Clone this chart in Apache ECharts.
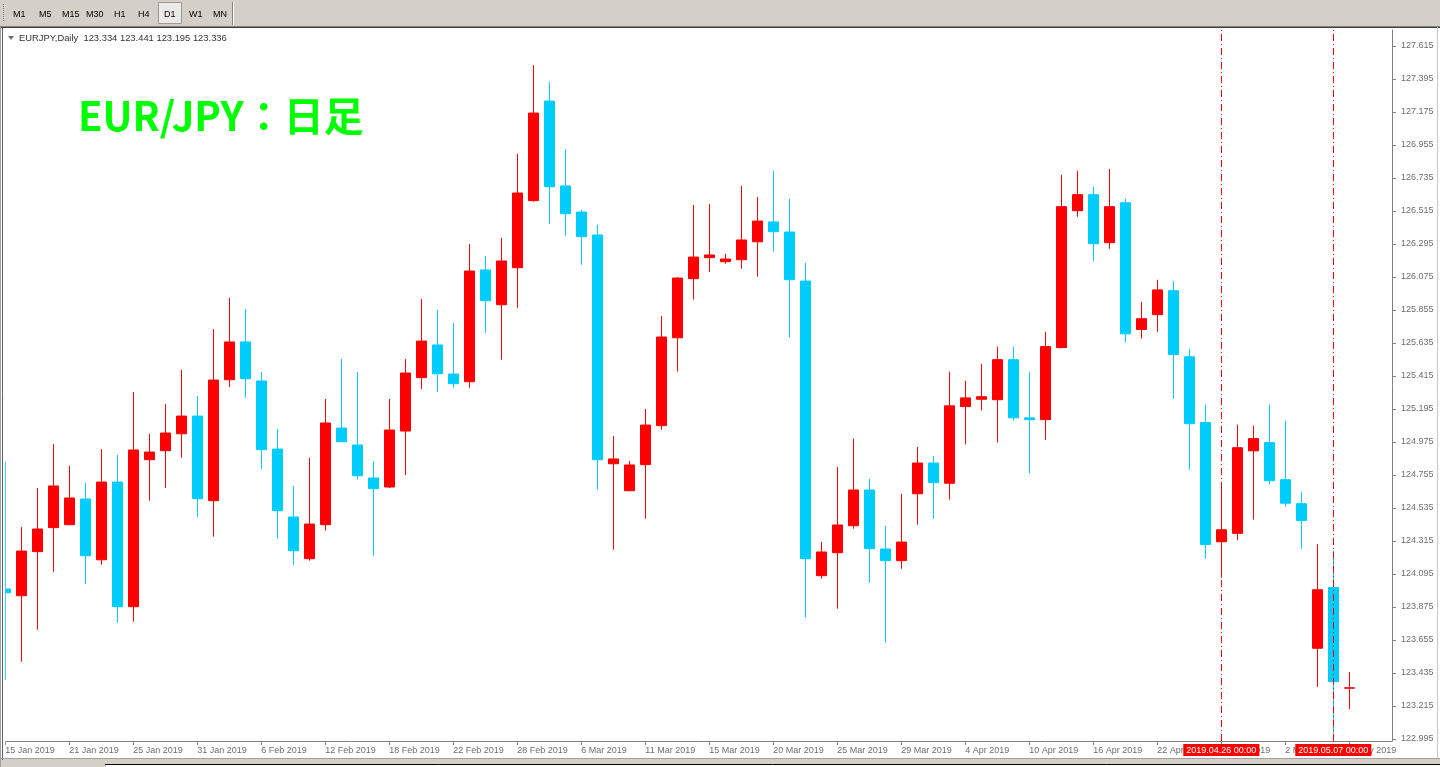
<!DOCTYPE html>
<html><head><meta charset="utf-8">
<script src="https://cdn.jsdelivr.net/npm/echarts@6/dist/echarts.min.js"></script>
<style>html,body{margin:0;padding:0;background:#fff;overflow:hidden}#c{width:1440px;height:767px}</style>
</head><body><div id="c"></div>
<script>
// ---------- DATA ----------
const dates = ['15 Jan 2019','16 Jan 2019','17 Jan 2019','18 Jan 2019','21 Jan 2019','22 Jan 2019','23 Jan 2019','24 Jan 2019','25 Jan 2019','28 Jan 2019','29 Jan 2019','30 Jan 2019','31 Jan 2019','1 Feb 2019','4 Feb 2019','5 Feb 2019','6 Feb 2019','7 Feb 2019','8 Feb 2019','11 Feb 2019','12 Feb 2019','13 Feb 2019','14 Feb 2019','15 Feb 2019','18 Feb 2019','19 Feb 2019','20 Feb 2019','21 Feb 2019','22 Feb 2019','25 Feb 2019','26 Feb 2019','27 Feb 2019','28 Feb 2019','1 Mar 2019','4 Mar 2019','5 Mar 2019','6 Mar 2019','7 Mar 2019','8 Mar 2019','10 Mar 2019','11 Mar 2019','12 Mar 2019','13 Mar 2019','14 Mar 2019','15 Mar 2019','17 Mar 2019','18 Mar 2019','19 Mar 2019','20 Mar 2019','21 Mar 2019','22 Mar 2019','24 Mar 2019','25 Mar 2019','26 Mar 2019','27 Mar 2019','28 Mar 2019','29 Mar 2019','1 Apr 2019','2 Apr 2019','3 Apr 2019','4 Apr 2019','5 Apr 2019','8 Apr 2019','9 Apr 2019','10 Apr 2019','11 Apr 2019','12 Apr 2019','15 Apr 2019','16 Apr 2019','17 Apr 2019','18 Apr 2019','19 Apr 2019','22 Apr 2019','23 Apr 2019','24 Apr 2019','25 Apr 2019','26 Apr 2019','29 Apr 2019','30 Apr 2019','1 May 2019','2 May 2019','3 May 2019','6 May 2019','7 May 2019','8 May 2019'];
const openP  = [123.995,123.950,124.244,124.404,124.424,124.595,124.190,124.708,123.877,124.857,124.917,125.030,125.148,124.584,125.390,125.642,125.382,124.928,124.475,124.197,124.424,125.068,124.955,124.735,124.675,125.048,125.404,125.622,125.428,125.377,126.122,125.890,126.137,126.584,127.248,126.682,126.508,126.355,124.830,124.650,124.824,125.084,125.670,126.064,126.204,126.177,126.190,126.310,126.442,126.375,126.048,124.084,124.237,124.417,124.655,124.262,124.184,124.630,124.835,124.700,125.211,125.260,125.257,125.524,125.136,125.124,125.604,126.517,126.624,126.304,126.570,125.725,125.824,125.984,125.543,125.105,124.310,124.366,124.916,124.971,124.724,124.564,123.600,124.005,123.334];
const highP  = [124.844,124.408,124.668,124.962,124.815,124.702,124.928,124.888,125.308,125.028,125.228,125.455,125.282,125.728,125.935,125.862,125.442,125.062,124.682,124.868,125.262,125.528,125.442,124.848,125.262,125.528,125.928,125.855,125.768,126.295,126.215,126.335,126.895,127.488,127.375,126.928,126.522,126.422,125.015,124.848,125.195,125.815,126.075,126.555,126.562,126.228,126.682,126.608,126.782,126.595,126.168,124.308,124.808,124.998,124.728,124.415,124.628,124.942,124.882,125.444,125.383,125.497,125.611,125.611,125.444,125.710,126.757,126.783,126.677,126.795,126.597,125.909,126.057,126.049,125.596,125.224,124.705,125.090,125.083,125.224,125.117,124.644,124.293,124.250,123.441];
const lowP   = [123.388,123.510,123.724,124.110,124.420,124.030,124.157,123.770,123.777,124.584,124.670,124.870,124.477,124.344,125.342,125.270,124.797,124.330,124.157,124.184,124.384,124.975,124.724,124.217,124.668,124.755,125.328,125.308,125.337,125.337,125.704,125.524,125.870,126.577,126.430,126.350,126.157,124.657,124.257,124.648,124.464,125.057,125.444,125.924,126.110,126.164,126.130,126.077,126.244,125.670,123.804,124.064,123.864,124.397,124.037,123.637,124.130,124.424,124.464,124.591,124.959,125.185,124.971,125.117,124.765,124.990,125.604,126.476,126.183,126.263,125.640,125.664,125.710,125.264,124.790,124.196,124.070,124.320,124.458,124.693,124.543,124.264,123.343,123.030,123.195];
const closeP = [123.970,124.248,124.395,124.682,124.602,124.217,124.708,123.877,124.922,124.908,125.035,125.148,124.597,125.388,125.642,125.397,124.924,124.517,124.250,124.428,125.102,124.977,124.750,124.664,125.055,125.435,125.648,125.430,125.364,126.115,125.917,126.182,126.635,127.168,126.677,126.497,126.344,124.857,124.862,124.822,125.088,125.675,126.068,126.208,126.222,126.195,126.322,126.448,126.377,126.057,124.197,124.242,124.422,124.655,124.264,124.184,124.308,124.835,124.704,125.216,125.269,125.277,125.524,125.136,125.124,125.611,126.544,126.624,126.297,126.544,125.696,125.797,125.989,125.558,125.097,124.291,124.390,124.937,124.998,124.717,124.567,124.451,123.990,123.377,123.336];
const yTicks = [127.615,127.395,127.175,126.955,126.735,126.515,126.295,126.075,125.855,125.635,125.415,125.195,124.975,124.755,124.535,124.315,124.095,123.875,123.655,123.435,123.215,122.995];
const xLabelIndex = [0,4,8,12,16,20,24,28,32,36,40,44,48,52,56,60,64,68,72,76,80,84];
const timeframes = ['M1','M5','M15','M30','H1','H4','D1','W1','MN'];
const markerIndex = [76, 83];
const markerLabels = ['2019.04.26 00:00','2019.05.07 00:00'];
const lastPrice = 123.336;
const headerText = 'EURJPY,Daily  123.334 123.441 123.195 123.336';
const titleText = 'EUR/JPY：日足';

// ---------- CHART ----------
const candles = dates.map((d, i) => [i, openP[i], closeP[i], lowP[i], highP[i]]);
const tfX = [13, 39, 62, 86, 114, 138, 164, 189, 213];
const FONT = 'Liberation Sans';

const graphics = [
  // toolbar
  {type:'rect', z:100, shape:{x:0,y:0,width:1440,height:26}, style:{fill:'#D4D0C8'}},
  {type:'line', z:101, shape:{x1:3.5,y1:4,x2:3.5,y2:22}, style:{stroke:'#808080', lineDash:[1,1], lineWidth:1}},
  {type:'rect', z:101, shape:{x:158.5,y:2.5,width:23,height:21}, style:{fill:'#ECEAE6', stroke:'#9A9A9A', lineWidth:1}},
  {type:'line', z:101, shape:{x1:232.5,y1:2,x2:232.5,y2:25}, style:{stroke:'#808080'}},
  {type:'line', z:101, shape:{x1:233.5,y1:2,x2:233.5,y2:25}, style:{stroke:'#FFFFFF'}},
  {type:'line', z:101, shape:{x1:0,y1:26.5,x2:1440,y2:26.5}, style:{stroke:'#808080'}},
  {type:'line', z:101, shape:{x1:0,y1:27.5,x2:1440,y2:27.5}, style:{stroke:'#404040'}},
  // left frame (hides the part of the first bar beyond the chart edge)
  {type:'rect', z:100, shape:{x:0,y:28,width:5.2,height:731}, style:{fill:'#FFFFFF'}},
  {type:'line', z:101, shape:{x1:0.5,y1:27,x2:0.5,y2:767}, style:{stroke:'#A0A0A0'}},
  {type:'line', z:101, shape:{x1:2.5,y1:27,x2:2.5,y2:760}, style:{stroke:'#606060'}},
  // right frame
  {type:'line', z:101, shape:{x1:1437.5,y1:27,x2:1437.5,y2:760}, style:{stroke:'#C8C8C8'}},
  // bottom strip
  {type:'rect', z:100, shape:{x:0,y:759,width:1440,height:8}, style:{fill:'#D4D0C8'}},
  {type:'line', z:101, shape:{x1:0,y1:758.5,x2:1440,y2:758.5}, style:{stroke:'#A0A0A0'}},
  {type:'line', z:101, shape:{x1:105,y1:764.5,x2:1440,y2:764.5}, style:{stroke:'#000000'}},
  {type:'rect', z:101, shape:{x:106,y:765,width:1334,height:2}, style:{fill:'#FFFFFF'}},
  // header
  {type:'polygon', z:101, shape:{points:[[8,36],[14,36],[11,40]]}, style:{fill:'#707070'}},
  {type:'text', z:101, x:19, y:38, style:{text:headerText, font:'9.4px "'+FONT+'"', fill:'#333333', textVerticalAlign:'middle'}}
];
timeframes.forEach((t, i) => {
  graphics.push({type:'text', z:102, x:tfX[i], y:15, style:{text:t, font:'9px "'+FONT+'"', fill:'#000000', textVerticalAlign:'middle'}});
});

const markData = markerIndex.map((idx, i) => ({
  xAxis: idx,
  lineStyle:{color:'#FF0000', type:[7,3,1,3], width:1},
  label:{show:true, position:'start', formatter: markerLabels[i], color:'#FFFFFF', backgroundColor:'#FF0000',
         padding:[2,3,1,3], fontSize:9, fontFamily:FONT, distance:3}
}));
markData.push({
  yAxis: lastPrice,
  lineStyle:{opacity:0},
  label:{show:true, position:'end', formatter: lastPrice.toFixed(3), color:'#FFFFFF', backgroundColor:'#808080',
         padding:[2,4,1,3], fontSize:9, fontFamily:FONT, distance:3}
});

const chart = echarts.init(document.getElementById('c'), null, {renderer:'canvas'});
chart.setOption({
  animation:false,
  backgroundColor:'#FFFFFF',
  title:{text:titleText, left:78, top:96, padding:0, textStyle:{color:'#00FF00', fontSize:40, fontWeight:'bold', fontFamily:'Noto Sans CJK JP'}},
  grid:{left:5, right:48, top:30, bottom:26, containLabel:false},
  xAxis:{type:'value', min:-0.01875, max:86.66875,
    axisLine:{show:true, onZero:false, lineStyle:{color:'#808080'}},
    axisTick:{show:true, length:4, lineStyle:{color:'#808080'}, customValues:xLabelIndex},
    axisLabel:{customValues:xLabelIndex, formatter:v => dates[Math.round(v)], align:'left', color:'#6E6E6E', fontSize:9, fontFamily:FONT, margin:5},
    splitLine:{show:false}},
  yAxis:{type:'value', position:'right', min:122.9817, max:127.7217,
    splitLine:{show:false},
    axisLine:{show:true, onZero:false, lineStyle:{color:'#808080'}},
    axisTick:{show:true, length:4, lineStyle:{color:'#808080'}, customValues:yTicks},
    axisLabel:{customValues:yTicks, formatter:v => v.toFixed(3), color:'#6E6E6E', fontSize:9, fontFamily:FONT, margin:9}},
  series:[{
    type:'candlestick', data:candles, barWidth:10, encode:{x:0, y:[1,2,3,4]},
    itemStyle:{color:'#FF0000', color0:'#00CCFF', borderColor:'#FF0000', borderColor0:'#00CCFF', borderWidth:1},
    markLine:{silent:true, symbol:['none','none'], animation:false, data:markData}
  }],
  graphic: graphics
});
</script></body></html>
